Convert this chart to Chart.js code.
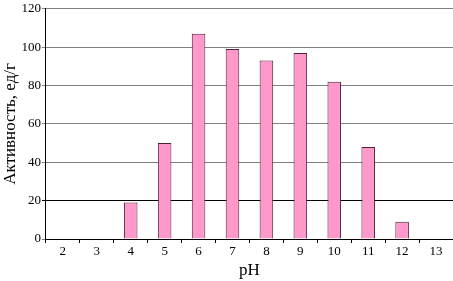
<!DOCTYPE html>
<html><head><meta charset="utf-8">
<script src="https://cdn.jsdelivr.net/npm/chart.js@4/dist/chart.umd.min.js"></script>
<style>html,body{margin:0;padding:0;background:#fff}#w{width:453px;height:281px}</style>
</head><body><div id="w"><canvas id="c"></canvas></div>
<script>
const categories = ['2','3','4','5','6','7','8','9','10','11','12','13'];
const activity = [0,0,19,50,107,99,93,97,82,48,9,0];
const yTicks = [0,20,40,60,80,100,120];
const xTitle = 'pH';
const yTitle = 'Активность, ед/г';

new Chart(document.getElementById('c'), {
  type: 'bar',
  data: { labels: categories, datasets: [{ data: activity, backgroundColor: '#ff99cc', borderColor: '#4d2233', borderWidth: 1, barPercentage: 0.4, categoryPercentage: 1 }] },
  options: {
    responsive: true, maintainAspectRatio: false, animation: false,
    layout: { padding: { top: 0, right: 0, left: 0, bottom: 0 } },
    plugins: { legend: { display: false }, tooltip: { enabled: false } },
    scales: {
      x: {
        grid: { offset: true, drawOnChartArea: false, drawTicks: true, tickLength: 4, color: '#000' },
        border: { color: '#000' },
        ticks: { color: '#000', font: { family: 'Liberation Serif', size: 13 }, padding: 1, maxRotation: 0 },
        title: { display: true, text: xTitle, color: '#000', font: { family: 'Liberation Serif', size: 17 }, padding: { top: 0, bottom: 0 } }
      },
      y: {
        min: 0, max: 120,
        afterBuildTicks: s => { s.ticks = yTicks.map(v => ({ value: v })); },
        grid: { color: c => c.tick && c.tick.value === 20 ? '#000' : '#808080', tickLength: 4, lineWidth: 1 },
        border: { color: '#000' },
        ticks: { color: '#000', font: { family: 'Liberation Serif', size: 13 }, padding: 1 },
        title: { display: true, text: yTitle, color: '#000', font: { family: 'Liberation Serif', size: 17 }, padding: { top: 0, bottom: 0 } }
      }
    }
  }
});
</script></body></html>
